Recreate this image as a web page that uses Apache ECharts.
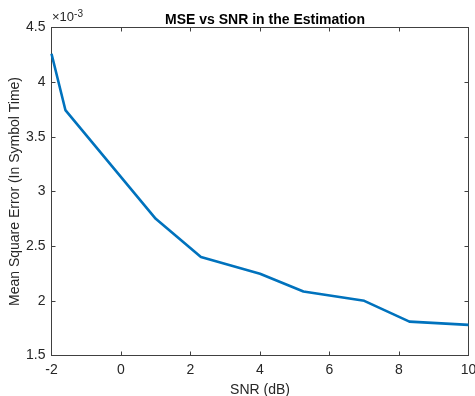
<!DOCTYPE html>
<html>
<head>
<meta charset="utf-8">
<script src="https://cdn.jsdelivr.net/npm/echarts@6/dist/echarts.min.js"></script>
<style>
  html, body { margin: 0; padding: 0; background: #fff; }
  #chart { width: 475px; height: 396px; }
</style>
</head>
<body>
<div id="chart"></div>
<script>
// SNR in dB, MSE in units of 1e-3
const snrDb = [-2, -1.6, 1, 2.3, 4, 5.25, 7, 8.3, 10]
const mseE3 = [4.26, 3.745, 2.75, 2.40, 2.247, 2.085, 2.0, 1.81, 1.78]

const titleText = 'MSE vs SNR in the Estimation'
const xName = 'SNR (dB)'
const yName = 'Mean Square Error (In Symbol Time)'

const font = 'Liberation Sans, Arial, Helvetica, sans-serif'
const axisColor = '#404040'
const textColor = '#262626'

const chart = echarts.init(document.getElementById('chart'))

const axisCommon = {
  axisLine: {show: true, onZero: false, lineStyle: {color: axisColor, width: 1}},
  axisTick: {show: true, inside: true, length: 4, lineStyle: {color: axisColor}},
  splitLine: {show: false}
}

const option = {
  backgroundColor: '#fff',
  animation: false,
  title: {
    text: titleText,
    left: 260,
    top: 8,
    textAlign: 'center',
    textStyle: {fontFamily: font, fontSize: 14, fontWeight: 'bold', color: '#000'}
  },
  grid: {left: 51.5, top: 27.5, right: 6.5, bottom: 40.5, containLabel: false, outerBoundsMode: 'none'},
  xAxis: [
    {
      type: 'value', min: -2, max: 10, interval: 2, position: 'bottom',
      ...axisCommon,
      name: xName, nameLocation: 'middle', nameGap: 28,
      nameTextStyle: {fontFamily: font, fontSize: 14, color: textColor},
      axisLabel: {fontFamily: font, fontSize: 14, color: textColor, margin: 8}
    },
    {
      type: 'value', min: -2, max: 10, interval: 2, position: 'top',
      ...axisCommon,
      axisLabel: {show: false}
    }
  ],
  yAxis: [
    {
      type: 'value', min: 1.5, max: 4.5, interval: 0.5, position: 'left',
      ...axisCommon,
      name: yName, nameLocation: 'middle', nameGap: 29, nameRotate: 90,
      nameMoveOverlap: false,
      nameTextStyle: {fontFamily: font, fontSize: 14, color: textColor},
      axisLabel: {fontFamily: font, fontSize: 14, color: textColor, margin: 6}
    },
    {
      type: 'value', min: 1.5, max: 4.5, interval: 0.5, position: 'right',
      ...axisCommon,
      axisLabel: {show: false}
    }
  ],
  graphic: [
    {
      type: 'text',
      left: 52,
      top: 9,
      style: {
        text: '×10{sup|-3}',
        font: '13px ' + font,
        fill: textColor,
        rich: {sup: {fontSize: 10, fontFamily: font, fill: textColor, verticalAlign: 'top', padding: [0, 0, 7, 0]}}
      }
    }
  ],
  series: [
    {
      type: 'line',
      data: snrDb.map((x, i) => [x, mseE3[i]]),
      symbol: 'none',
      lineStyle: {color: '#0072BD', width: 2.6},
      clip: true
    }
  ]
}

chart.setOption(option)
</script>
</body>
</html>
